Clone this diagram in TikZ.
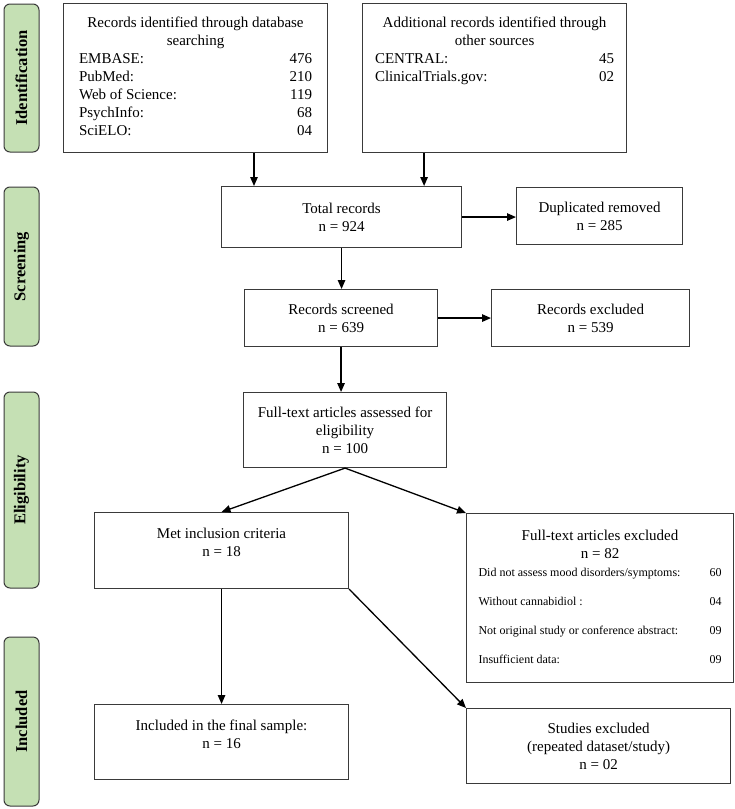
\documentclass[tikz,border=0pt]{standalone}
\usepackage{fontspec}
\setmainfont{Liberation Serif}
\usepackage{tikz}
\usetikzlibrary{arrows.meta}
\definecolor{phasegreen}{HTML}{C5E0B4}
\definecolor{boxgray}{HTML}{3A3A3A}

\begin{document}
\begin{tikzpicture} [x=1pt, y=-1pt,
	font=\fontsize{15}{18}\selectfont,
	box/.style={draw=boxgray, line width=1.1pt, anchor=north west, align=center, inner sep=0pt},
	phase/.style={draw=boxgray, line width=1pt, fill=phasegreen, rounded corners=6pt, rotate=90,
		minimum height=35pt, inner sep=0pt, font=\fontsize{16.5}{19}\selectfont\bfseries},
	arr/.style={-{Triangle[length=9pt, width=7.5pt]}, line width=1.3pt}]
	\useasboundingbox (0,0) rectangle (735,809);
	
	% stages on the left
	\node[phase, minimum width=148] (pid) at (21.5,78) {Identification};
	\node[phase, minimum width=159] (pscr) at (21.5,266.5) {Screening};
	\node[phase, minimum width=196] (pelig) at (21.5,490) {Eligibility};
	\node[phase, minimum width=169] (pinc) at (21.5,721.5) {Included};
	
	% identification
	\node[box, minimum width=264, minimum height=149] (db) at (63,3) {%
		\begin{tabular*}{233pt}{@{}l@{\extracolsep{\fill}}r@{}}
			\multicolumn{2}{c}{Records identified through database}\\
			\multicolumn{2}{c}{searching}\\
			EMBASE: & 476\\
			PubMed: & 210\\
			Web of Science: & 119\\
			PsychInfo: & 68\\
			SciELO: & 04
		\end{tabular*}};
	\node[box, minimum width=264, minimum height=149] (other) at (362,3) {%
		\begin{tabular*}{239pt}{@{}l@{\extracolsep{\fill}}r@{}}
			\multicolumn{2}{c}{Additional records identified through}\\
			\multicolumn{2}{c}{other sources}\\
			CENTRAL: & 45\\
			ClinicalTrials.gov: & 02\\
			 & \\
			 & \\
			 & 
		\end{tabular*}};
	
	% screening
	\node[box, minimum width=240, minimum height=61] (total) at (221,186) {Total records\\ n = 924};
	\node[box, minimum width=166, minimum height=57] (dup) at (516,187) {Duplicated removed\\ n = 285};
	\node[box, minimum width=193, minimum height=57] (screened) at (244,289) {Records screened\\ n = 639};
	\node[box, minimum width=198, minimum height=57] (excl) at (491,289) {Records excluded\\ n = 539};
	
	% eligibility
	\node[box, minimum width=203, minimum height=75] (fullt) at (243,392) {Full-text articles assessed for\\ eligibility\\ n = 100};
	\node[box, minimum width=254, minimum height=76, text depth=16pt] (met) at (94,512) {Met inclusion criteria\\ n = 18};
	\node[box, minimum width=267, minimum height=169, font=\fontsize{12}{18}\selectfont] (fex) at (466,513) {%
		\begin{tabular*}{243pt}{@{}l@{\extracolsep{\fill}}r@{}}
			\multicolumn{2}{c}{\fontsize{15}{18}\selectfont Full-text articles excluded}\\
			\multicolumn{2}{c}{\fontsize{15}{18}\selectfont n = 82}\\
			Did not assess mood disorders/symptoms: & 60\\[11pt]
			Without cannabidiol : & 04\\[11pt]
			Not original study or conference abstract: & 09\\[11pt]
			Insufficient data: & 09
		\end{tabular*}};
	
	% included
	\node[box, minimum width=254, minimum height=75, text depth=16pt] (final) at (94,704) {Included in the final sample:\\ n = 16};
	\node[box, minimum width=264, minimum height=75] (stud) at (466,708) {Studies excluded\\ (repeated dataset/study)\\ n = 02};
	
	% arrows
	\coordinate (t1) at ([xshift=33]total.north west);
	\coordinate (t2) at ([xshift=-38]total.north east);
	\draw[arr] (db.south -| t1) -- (t1);
	\draw[arr] (other.south -| t2) -- (t2);
	\draw[arr] (total.east) -- (total.east -| dup.west);
	\draw[arr] (total.south) -- (total.south |- screened.north);
	\draw[arr] (screened.east) -- (screened.east -| excl.west);
	\draw[arr] (screened.south) -- (screened.south |- fullt.north);
	\draw[arr] (fullt.south) -- (met.north);
	\draw[arr] (fullt.south) -- (fex.north west);
	\draw[arr] (met.south) -- (final.north);
	\draw[arr] (met.south east) -- (stud.north west);
	
\end{tikzpicture}
\end{document}
